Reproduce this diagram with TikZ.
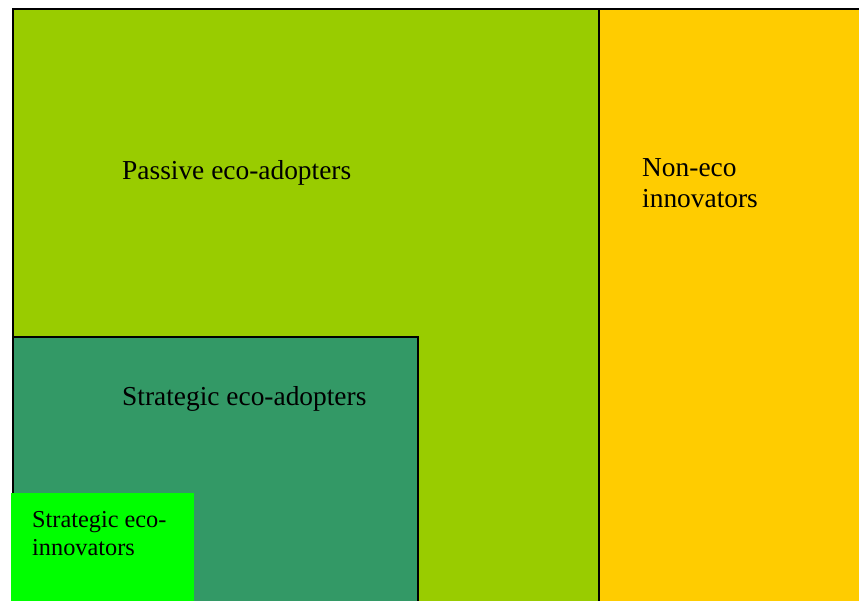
\documentclass[tikz,border=0pt]{standalone}
\usepackage{fontspec}
\setmainfont{Liberation Serif}
\definecolor{passive}{HTML}{99CC00}
\definecolor{nonEco}{HTML}{FFCC00}
\definecolor{stratAdopt}{HTML}{339966}
\definecolor{stratInno}{HTML}{00FF00}
\tikzset{
  region/.style={draw=black, line width=2pt},
  bigtext/.style={font=\fontsize{27.4}{31}\selectfont, inner sep=0pt, anchor=base west, align=left},
  smalltext/.style={font=\fontsize{24.3}{28}\selectfont, inner sep=0pt, anchor=base west, align=left}
}
\begin{document}
\begin{tikzpicture}[x=1pt,y=-1pt]
\useasboundingbox (0,0) rectangle (859,600);
\clip (0,0) rectangle (859,600);
\fill[white] (0,0) rectangle (859,600);
% passive eco-adopters
\filldraw[region, fill=passive] (13,9) rectangle (599,610);
% non-eco innovators
\filldraw[region, fill=nonEco] (599,9) rectangle (870,610);
% strategic eco-adopters
\filldraw[region, fill=stratAdopt] (13,337) rectangle (418,610);
% strategic eco-innovators
\fill[stratInno] (11,493) rectangle (194,610);
\node[bigtext] (pa) at (122,179) {Passive eco-adopters};
\node[bigtext] (ne) at (642,207) {Non-eco\\innovators};
\node[bigtext] (sa) at (122,405) {Strategic eco-adopters};
\node[smalltext] (si) at (32,555) {Strategic eco-\\innovators};
\end{tikzpicture}
\end{document}
